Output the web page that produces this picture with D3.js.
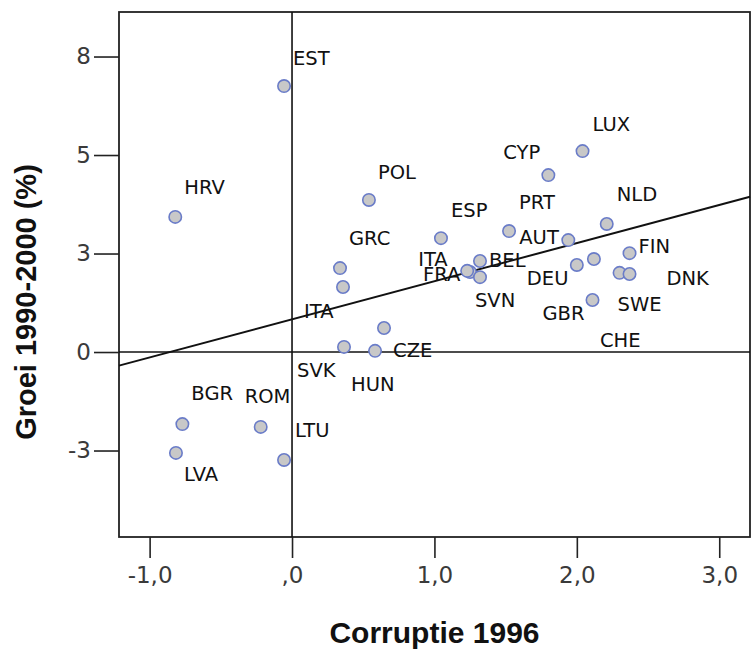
<!DOCTYPE html>
<html>
<head>
<meta charset="utf-8">
<script src="https://cdn.jsdelivr.net/npm/d3@7"></script>
<style>
  html, body { margin: 0; padding: 0; background: #fff; }
  svg { display: block; }
</style>
</head>
<body>
<script>
// ---- data ----
const countries = ["EST","HRV","POL","GRC","ITA","ESP","CYP","LUX","PRT","NLD","AUT","DEU","CHE","FIN","SWE","DNK","GBR","BEL","FRA","ITA","SVN","CZE","SVK","HUN","BGR","ROM","LTU","LVA"];
const corruption = [-0.056,-0.82,0.54,0.337,0.358,1.046,1.80,2.04,1.524,2.21,1.94,2.00,2.12,2.37,2.30,2.37,2.11,1.32,1.25,1.23,1.32,0.646,0.365,0.583,-0.77,-0.22,-0.056,-0.815];
const growth =     [6.75,3.43,3.86,2.13,1.65,2.89,4.49,5.10,3.07,3.25,2.84,2.21,2.36,2.51,2.01,1.98,1.32,2.31,2.03,2.06,1.90,0.61,0.13,0.03,-1.83,-1.90,-2.74,-2.56];
// label offsets (px) relative to the marker — layout only
const labelDx = [9,9,9,9,-39,10,-45,10,10,10,-49,-50,6,9,-2,37,-50,9,-47,-49,-5,9,-47,-24,9,-16,11,8];
const labelDy = [-28,-30,-28,-30,24,-28,-23,-27,-29,-30,-3,13,81,-7,31,4,13,-1,2,-12,23,22,23,33,-31,-31,-30,21];

const xTicks = [-1, 0, 1, 2, 3];
const xTickLabels = ["-1,0", ",0", "1,0", "2,0", "3,0"];
const yTicks = [-2.5, 0, 2.5, 5, 7.5];
const yTickLabels = ["-3", "0", "3", "5", "8"];
const xDomain = [-1.215, 3.216];
const yDomain = [-4.695, 8.63];
const fitIntercept = 0.83;
const fitSlope = 0.9675;
const xTitle = "Corruptie 1996";
const yTitle = "Groei 1990-2000 (%)";

// ---- layout ----
const W = 752, H = 649;
const mLeft = 119, mRight = 750, mTop = 12, mBottom = 537;

const svg = d3.select("body").append("svg").attr("width", W).attr("height", H);

const x = d3.scaleLinear().domain(xDomain).range([mLeft, mRight]);
const y = d3.scaleLinear().domain(yDomain).range([mBottom, mTop]);

// axes
const xAxis = d3.axisBottom(x).tickValues(xTicks)
  .tickFormat((d, i) => xTickLabels[i]).tickSizeInner(21).tickSizeOuter(0).tickPadding(9);
const yAxis = d3.axisLeft(y).tickValues(yTicks)
  .tickFormat((d, i) => yTickLabels[i]).tickSizeInner(25).tickSizeOuter(0).tickPadding(3);

const gx = svg.append("g").attr("transform", `translate(0,${mBottom})`).call(xAxis);
const gy = svg.append("g").attr("transform", `translate(${mLeft},0)`).call(yAxis);
[gx, gy].forEach(g => {
  g.select(".domain").remove();
  g.selectAll(".tick line").attr("stroke", "#222").attr("stroke-width", 1.6);
  g.selectAll(".tick text").attr("font-family", "DejaVu Sans").attr("font-size", 23).attr("fill", "#3a3a3a");
});

// frame
svg.append("rect").attr("x", mLeft).attr("y", mTop).attr("width", mRight - mLeft).attr("height", mBottom - mTop)
  .attr("fill", "none").attr("stroke", "#222").attr("stroke-width", 1.8);

// reference lines at 0
svg.append("line").attr("x1", x(0)).attr("x2", x(0)).attr("y1", mTop).attr("y2", mBottom)
  .attr("stroke", "#111").attr("stroke-width", 1.6);
svg.append("line").attr("x1", mLeft).attr("x2", mRight).attr("y1", y(0)).attr("y2", y(0))
  .attr("stroke", "#111").attr("stroke-width", 1.6);

// fit line
svg.append("line")
  .attr("x1", x(xDomain[0])).attr("y1", y(fitIntercept + fitSlope * xDomain[0]))
  .attr("x2", x(xDomain[1])).attr("y2", y(fitIntercept + fitSlope * xDomain[1]))
  .attr("stroke", "#111").attr("stroke-width", 2);

const pts = countries.map((c, i) => ({ c, x: corruption[i], y: growth[i], dx: labelDx[i], dy: labelDy[i] }));

// markers
svg.append("g").selectAll("circle").data(pts).join("circle")
  .attr("cx", d => x(d.x)).attr("cy", d => y(d.y)).attr("r", 6.2)
  .attr("fill", "#c8c8c8").attr("stroke", "#6a7cc8").attr("stroke-width", 1.6);

// labels
svg.append("g").selectAll("text").data(pts).join("text")
  .attr("x", d => x(d.x) + d.dx).attr("y", d => y(d.y) + d.dy)
  .attr("dy", "0.36em")
  .attr("font-family", "DejaVu Sans").attr("font-size", 19.5).attr("fill", "#111")
  .text(d => d.c);

// titles
svg.append("text").attr("x", (mLeft + mRight) / 2).attr("y", 643)
  .attr("text-anchor", "middle").attr("font-family", "Liberation Sans, Arial").attr("font-weight", "bold")
  .attr("font-size", 30).attr("fill", "#111").text(xTitle);
svg.append("text").attr("transform", `translate(36,302) rotate(-90)`)
  .attr("text-anchor", "middle").attr("font-family", "Liberation Sans, Arial").attr("font-weight", "bold")
  .attr("font-size", 29).attr("fill", "#111").text(yTitle);
</script>
</body>
</html>
